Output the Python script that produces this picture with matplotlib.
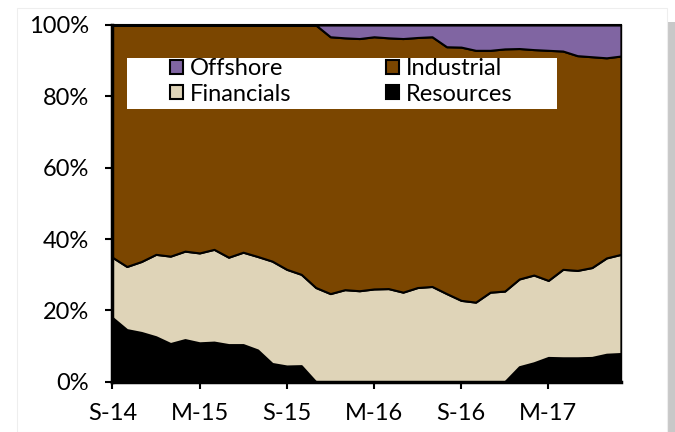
import matplotlib
matplotlib.use("Agg")
import matplotlib.pyplot as plt
from matplotlib.patches import Rectangle
import numpy as np

plt.rcParams['font.family'] = ['Lato', 'DejaVu Sans']

tick_labels = ["S-14", "M-15", "S-15", "M-16", "S-16", "M-17"]
tick_pos = [0, 6, 12, 18, 24, 30]

resources = [18.0, 14.6, 13.8, 12.6, 10.7, 11.8, 10.9, 11.1, 10.4, 10.4, 8.9, 5.1,
             4.4, 4.5, 0, 0, 0, 0, 0, 0, 0, 0, 0, 0, 0, 0, 0, 0,
             4.2, 5.3, 6.8, 6.7, 6.7, 6.8, 7.7, 7.9]
financials = [16.9, 17.7, 19.9, 23.1, 24.5, 24.8, 25.2, 26.0, 24.5, 25.9, 26.2, 28.7,
              27.1, 25.6, 26.4, 24.7, 25.8, 25.5, 26.0, 26.1, 25.1, 26.4, 26.7, 24.7,
              22.8, 22.3, 25.1, 25.4, 24.6, 24.6, 21.6, 24.8, 24.5, 25.2, 27.0, 27.8]
industrial = [65.1, 67.7, 66.3, 64.3, 64.8, 63.4, 63.9, 62.9, 65.1, 63.7, 64.9, 66.2,
              68.5, 69.9, 73.6, 72.0, 70.6, 70.7, 70.7, 70.3, 71.1, 70.1, 70.0, 69.2,
              71.0, 70.6, 67.8, 67.9, 64.6, 63.2, 64.5, 61.2, 60.2, 59.1, 56.1, 55.6]
offshore = [0] * 15 + [3.3, 3.6, 3.8, 3.3, 3.6, 3.8, 3.5, 3.3, 6.1, 6.2, 7.1, 7.1,
                       6.7, 6.6, 6.9, 7.1, 7.3, 8.6, 8.9, 9.2, 8.7]

series = ["Resources", "Financials", "Industrial", "Offshore"]
colors = ["#000000", "#DFD4B8", "#7B4600", "#8065A2"]

x = np.arange(len(resources))

fig = plt.figure(figsize=(6.75, 4.32), dpi=100)
fig.patch.set_facecolor("white")
# card shadow on the right
fig.patches.append(Rectangle((667/675, 0), 8/675, 1 - 22/432, transform=fig.transFigure,
                             facecolor="#c8c8c8", edgecolor="none", zorder=-10))
fig.patches.append(Rectangle((17/675, 0), 650/675, 1 - 8/432, transform=fig.transFigure,
                             facecolor="white", edgecolor="#eeeeee", linewidth=0.8, zorder=-9))

ax = fig.add_axes([112.3/675, 1 - 381.7/432, (621 - 112.3)/675, (381.7 - 25)/432])
ax.set_zorder(1)

polys = ax.stackplot(x, resources, financials, industrial, offshore,
                     colors=colors, edgecolor="black", linewidth=1.5, labels=series)

ax.set_xlim(0, 35)
ax.set_ylim(0, 100)
ax.set_xticks(tick_pos)
ax.set_xticklabels(tick_labels)
ax.set_yticks([0, 20, 40, 60, 80, 100])
ax.set_yticklabels([f"{v}%" for v in [0, 20, 40, 60, 80, 100]])
ax.tick_params(axis="both", labelsize=17, direction="out", length=5, width=1.5, colors="black")
ax.tick_params(axis="y", pad=12)
ax.tick_params(axis="x", pad=10)

for s in ["left", "bottom"]:
    ax.spines[s].set_linewidth(2.5)
ax.spines["top"].set_linewidth(1.5)
ax.spines["right"].set_linewidth(1.0)

# legend background box
ax.add_patch(Rectangle(((127 - 112.3)/508.7, (381.7 - 109)/356.7), (557 - 127)/508.7, (109 - 58)/356.7,
                       transform=ax.transAxes, facecolor="white", edgecolor="none", zorder=5))

handles = [polys[3], polys[1], polys[2], polys[0]]
labels = ["Offshore", "Financials", "Industrial", "Resources"]
leg = ax.legend(handles, labels, ncol=2, frameon=False, loc="upper left",
                bbox_to_anchor=((170 - 112.3)/508.7, (381.7 - 58)/356.7),
                fontsize=17, handlelength=0.55, handleheight=0.55, handletextpad=0.3,
                labelspacing=0.2, columnspacing=4.0, borderpad=0, borderaxespad=0)
leg.set_zorder(6)

fig.savefig("out.png", dpi=100)
